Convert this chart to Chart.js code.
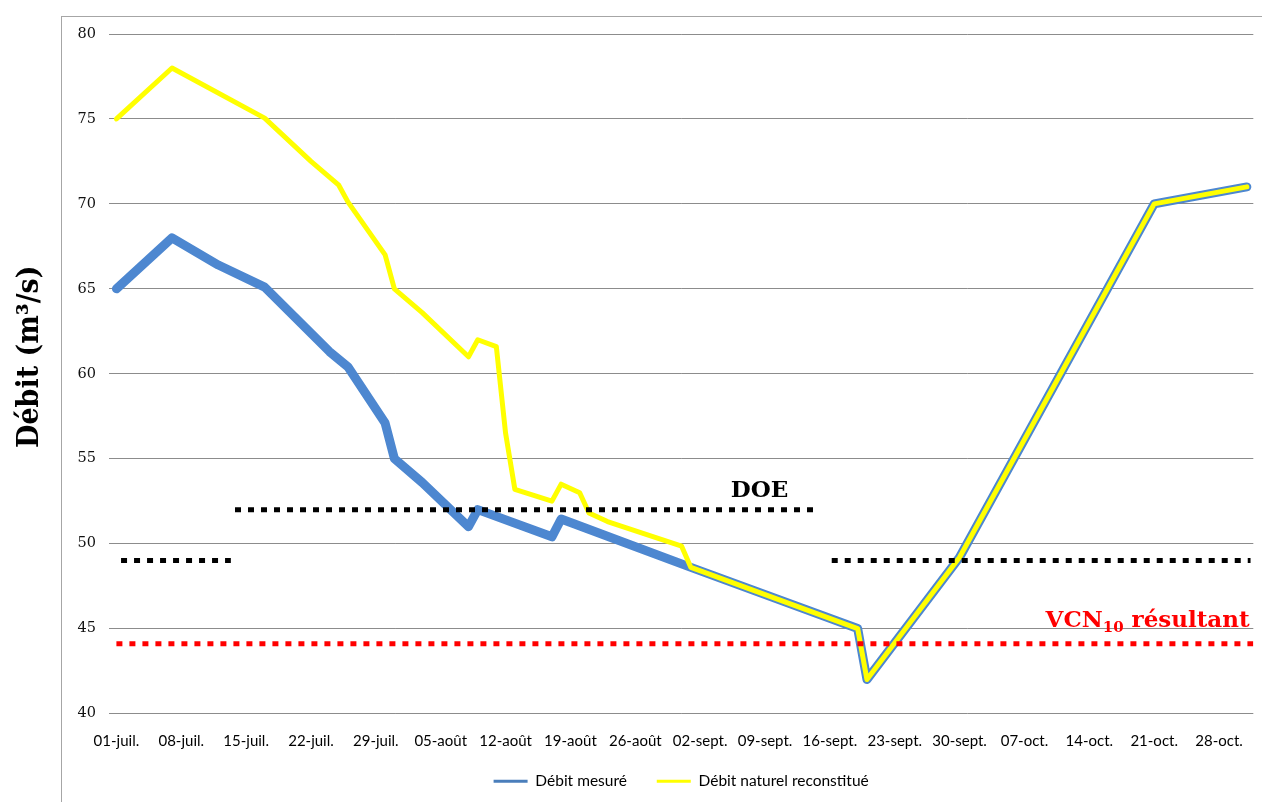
<!DOCTYPE html>
<html lang="fr">
<head>
<meta charset="utf-8">
<title>Débit mesuré et débit naturel reconstitué</title>
<script src="https://cdn.jsdelivr.net/npm/chart.js@4.4.1/dist/chart.umd.min.js"></script>
<style>
  html, body { margin: 0; padding: 0; background: #fff; overflow: hidden; }
  #wrap { position: relative; width: 1262px; height: 802px; }
  #cadre { position: absolute; left: 61px; top: 16px; width: 1260px; height: 860px; border: 1px solid #a6a6a6; pointer-events: none; }
  canvas { position: absolute; left: 0; top: 0; }
</style>
</head>
<body>
<div id="wrap">
  <div id="cadre"></div>
  <canvas id="debitChart" width="1262" height="802"></canvas>
</div>
<script>
// Jours comptés à partir du 1er juillet (jour 0)
const xTickDays = [0, 7, 14, 21, 28, 35, 42, 49, 56, 63, 70, 77, 84, 91, 98, 105, 112, 119];
const xTickLabels = ['01-juil.', '08-juil.', '15-juil.', '22-juil.', '29-juil.', '05-août', '12-août', '19-août', '26-août',
  '02-sept.', '09-sept.', '16-sept.', '23-sept.', '30-sept.', '07-oct.', '14-oct.', '21-oct.', '28-oct.'];
const yMin = 40, yMax = 80, yStep = 5;
const yTitle = 'Débit (m³/s)';

// Débit mesuré (m3/s)
const mesureDays   = [0, 6, 11, 16, 23, 25, 29, 30, 33, 38, 39, 47, 48, 62, 80, 81, 91, 112, 122];
const mesureValues = [65, 68, 66.4, 65.1, 61.3, 60.4, 57.1, 55, 53.6, 51, 52, 50.4, 51.45, 48.6, 45, 42, 49.2, 70, 71];

// Débit naturel reconstitué (m3/s)
const naturelDays   = [0, 6, 16, 21, 24, 25, 29, 30, 33, 38, 39, 41, 42, 43, 47, 48, 50, 51, 53, 61, 62, 80, 81, 91, 112, 122];
const naturelValues = [75, 78, 75.05, 72.5, 71.1, 70.1, 67, 65, 63.6, 61, 62, 61.6, 56.5, 53.2, 52.5, 53.5, 53, 51.8, 51.3, 49.85, 48.6, 45, 42, 49.2, 70, 71];

// Seuils
const doeJuilDays = [0.5, 12.35];
const doeJuilValue = 49;
const doeEteDays = [12.8, 75.9];
const doeEteValue = 52;
const doeAutDays = [77.2, 122.4];
const doeAutValue = 49;
const vcnDays = [0, 122.7];
const vcnValue = 44.1;

const toPoints = (days, values) => days.map((d, i) => ({ x: d, y: values[i] }));
const flat = (days, v) => days.map(d => ({ x: d, y: v }));

const seuilStyle = (color) => ({
  borderColor: color,
  borderWidth: 5,
  borderDash: [6, 7],
  borderCapStyle: 'butt',
  pointRadius: 0,
  fill: false,
  order: 0
});

// le titre est un peu au-dessus du milieu de l'axe
const y0Title = (chart) => chart.scales.y.getPixelForValue(61);

// titre de l'axe vertical + textes DOE et VCN10 posés sur les seuils
const annotations = {
  id: 'annotations',
  afterDatasetsDraw(chart) {
    const { ctx, scales: { x, y } } = chart;
    ctx.save();
    ctx.textBaseline = 'alphabetic';
    ctx.fillStyle = '#000';
    ctx.textAlign = 'center';
    ctx.font = 'bold 23px "DejaVu Serif"';
    ctx.fillText('DOE', x.getPixelForValue(69.4), y.getPixelForValue(doeEteValue) - 13);

    ctx.fillStyle = '#ff0000';
    ctx.textAlign = 'left';
    const big = 'bold 23px "DejaVu Serif"';
    const small = 'bold 15px "DejaVu Serif"';
    const base = y.getPixelForValue(vcnValue) - 17;
    ctx.font = big;
    const w1 = ctx.measureText('VCN').width;
    const w3 = ctx.measureText(' résultant').width;
    ctx.font = small;
    const w2 = ctx.measureText('10').width;
    let left = x.getPixelForValue(122.3) - (w1 + w2 + w3);
    ctx.font = big;
    ctx.fillText('VCN', left, base);
    ctx.font = small;
    ctx.fillText('10', left + w1, base + 5);
    ctx.font = big;
    ctx.fillText(' résultant', left + w1 + w2, base);
    ctx.restore();
  },
  afterDraw(chart) {
    const { ctx } = chart;
    ctx.save();
    ctx.translate(30, y0Title(chart));
    ctx.rotate(-Math.PI / 2);
    ctx.fillStyle = '#000';
    ctx.textAlign = 'center';
    ctx.textBaseline = 'middle';
    ctx.font = 'bold 30px "DejaVu Serif Condensed", "DejaVu Serif"';
    ctx.fillText(yTitle, 0, 0);
    ctx.restore();
  }
};

const ctx = document.getElementById('debitChart').getContext('2d');
new Chart(ctx, {
  type: 'line',
  data: {
    datasets: [
      {
        label: 'Débit mesuré',
        data: toPoints(mesureDays, mesureValues),
        borderColor: '#4d87d0',
        borderWidth: 9,
        borderJoinStyle: 'round',
        borderCapStyle: 'round',
        pointRadius: 0,
        tension: 0,
        order: 2
      },
      {
        label: 'Débit naturel reconstitué',
        data: toPoints(naturelDays, naturelValues),
        borderColor: '#ffff00',
        borderWidth: 5,
        borderJoinStyle: 'round',
        borderCapStyle: 'round',
        pointRadius: 0,
        tension: 0,
        order: 1
      },
      { label: 'DOE juillet', data: flat(doeJuilDays, doeJuilValue), ...seuilStyle('#000') },
      { label: 'DOE', data: flat(doeEteDays, doeEteValue), ...seuilStyle('#000') },
      { label: 'DOE automne', data: flat(doeAutDays, doeAutValue), ...seuilStyle('#000') },
      { label: 'VCN10', data: flat(vcnDays, vcnValue), ...seuilStyle('#ff0000') }
    ]
  },
  options: {
    responsive: false,
    animation: false,
    layout: { padding: { left: 0, right: 6, top: 34, bottom: 3 } },
    plugins: {
      tooltip: { enabled: false },
      legend: {
        position: 'bottom',
        fullSize: false,
        labels: {
          usePointStyle: true,
          pointStyleWidth: 34,
          padding: 10,
          color: '#000',
          font: { family: 'Lato', size: 15.5 },
          filter: (item) => item.datasetIndex < 2,
          sort: (a, b) => a.datasetIndex - b.datasetIndex,
          generateLabels: (chart) => Chart.defaults.plugins.legend.labels.generateLabels(chart).map(item => ({
            ...item,
            // espace entre les deux entrées
            text: item.datasetIndex === 0 ? item.text + '\u00a0'.repeat(5) : item.text,
            pointStyle: 'line',
            lineWidth: 3,
            strokeStyle: item.datasetIndex === 0 ? '#4a7ebb' : '#ffff00'
          }))
        }
      }
    },
    scales: {
      x: {
        type: 'linear',
        min: -0.8,
        max: 122.7,
        afterBuildTicks: (axis) => { axis.ticks = xTickDays.map(v => ({ value: v })); },
        afterFit: (axis) => { axis.height = 50; },
        grid: { display: false, drawTicks: false },
        border: { display: false },
        ticks: {
          autoSkip: false,
          maxRotation: 0,
          padding: 19,
          color: '#000',
          font: { family: 'Lato', size: 15 },
          callback: (v) => xTickLabels[xTickDays.indexOf(v)]
        }
      },
      y: {
        min: yMin,
        max: yMax,
        afterFit: (axis) => { axis.width = 109; },
        grid: { color: '#8c8c8c', lineWidth: 1, drawTicks: false },
        border: { display: false },
        ticks: {
          stepSize: yStep,
          padding: 13,
          color: '#111',
          font: { family: 'DejaVu Serif', size: 14.5 }
        }
      }
    }
  },
  plugins: [annotations]
});
</script>
</body>
</html>
